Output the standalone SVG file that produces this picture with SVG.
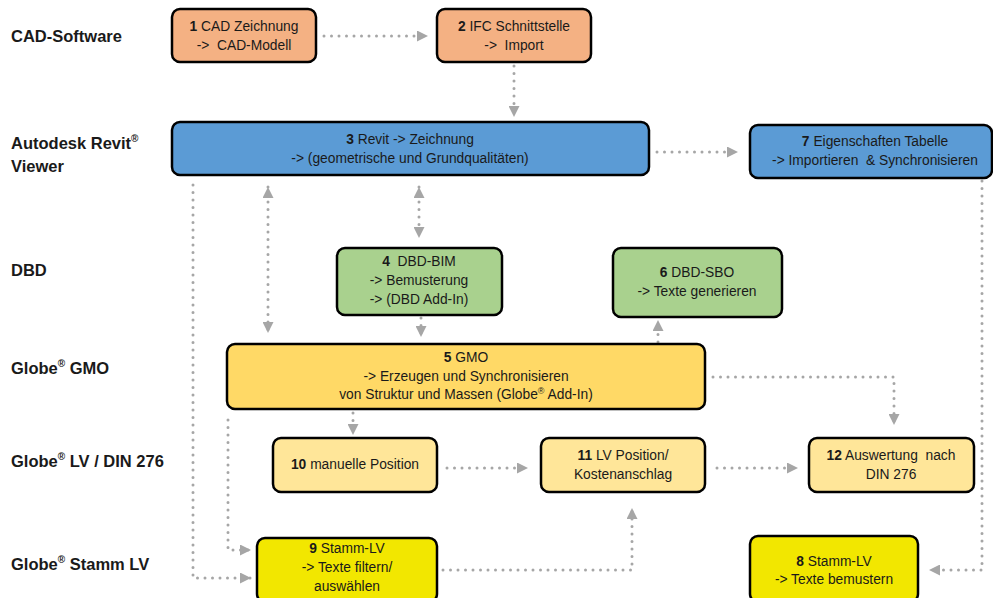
<svg xmlns="http://www.w3.org/2000/svg" width="993" height="598" viewBox="0 0 993 598">
<style>
.lbl{font-family:"Liberation Sans",Arial,sans-serif;font-size:16.5px;font-weight:bold;fill:#1a1a1a}
.t{font-family:"Liberation Sans",Arial,sans-serif;font-size:13.8px;fill:#1a1a1a;text-anchor:middle;white-space:pre}
.b{font-weight:bold}
.box{stroke:#000;stroke-width:2.5}
.or{fill:#F4B183}.bl{fill:#5B9BD5}.gr{fill:#A9D18E}.go{fill:#FFD966}.lt{fill:#FFE699}.ye{fill:#F2E700}
.c{fill:none;stroke:#A6A6A6;stroke-width:3;stroke-dasharray:0 7.5;stroke-linecap:round}
.sup{font-size:10px}
.sups{font-size:9px}
</style>
<defs>
<marker id="ah" viewBox="0 0 11 11" refX="11" refY="5.5" markerWidth="11" markerHeight="11" markerUnits="userSpaceOnUse" orient="auto-start-reverse">
<path d="M0,0 L11,5.5 L0,11 z" fill="#A6A6A6"/>
</marker>
</defs>
<rect width="993" height="598" fill="#fff"/>
<g id="lanes">
<text class="lbl" x="11" y="42">CAD-Software</text>
<text class="lbl" x="11" y="149">Autodesk Revit<tspan class="sup" dy="-7">®</tspan></text>
<text class="lbl" x="11" y="172">Viewer</text>
<text class="lbl" x="11" y="276">DBD</text>
<text class="lbl" x="11" y="374">Globe<tspan class="sup" dy="-7">®</tspan><tspan dy="7"> GMO</tspan></text>
<text class="lbl" x="11" y="467">Globe<tspan class="sup" dy="-7">®</tspan><tspan dy="7"> LV / DIN 276</tspan></text>
<text class="lbl" x="11" y="570">Globe<tspan class="sup" dy="-7">®</tspan><tspan dy="7"> Stamm LV</tspan></text>
</g>
<g id="connectors">
<path class="c" d="M324,36 H428" marker-end="url(#ah)"/>
<path class="c" d="M514,66 V117" marker-end="url(#ah)"/>
<path class="c" d="M657,152 H738" marker-end="url(#ah)"/>
<path class="c" d="M268,187 V333" marker-start="url(#ah)" marker-end="url(#ah)"/>
<path class="c" d="M419,187 V238" marker-start="url(#ah)" marker-end="url(#ah)"/>
<path class="c" d="M421,318 V337" marker-end="url(#ah)"/>
<path class="c" d="M658,342 V320" marker-end="url(#ah)"/>
<path class="c" d="M193,185 V578 H251" marker-end="url(#ah)"/>
<path class="c" d="M228,420 V550 H251" marker-end="url(#ah)"/>
<path class="c" d="M353,413 V435" marker-end="url(#ah)"/>
<path class="c" d="M447,468 H528" marker-end="url(#ah)"/>
<path class="c" d="M717,468 H798" marker-end="url(#ah)"/>
<path class="c" d="M713,377 H894 V425" marker-end="url(#ah)"/>
<path class="c" d="M443,570 H632 V508" marker-end="url(#ah)"/>
<path class="c" d="M982,181 V570 H929" marker-end="url(#ah)"/>
</g>
<g id="n1"><rect class="box or" x="172" y="9" width="144" height="53" rx="8"/>
<text class="t" x="244" y="31"><tspan class="b">1</tspan> CAD Zeichnung</text>
<text class="t" x="244" y="50">->  CAD-Modell</text></g>
<g id="n2"><rect class="box or" x="437" y="9" width="154" height="53" rx="8"/>
<text class="t" x="514" y="31"><tspan class="b">2</tspan> IFC Schnittstelle</text>
<text class="t" x="514" y="50">->  Import</text></g>
<g id="n3"><rect class="box bl" x="172" y="122" width="477" height="53" rx="8"/>
<text class="t" x="410" y="144"><tspan class="b">3</tspan> Revit -> Zeichnung</text>
<text class="t" x="410" y="163">-> (geometrische und Grundqualitäten)</text></g>
<g id="n7"><rect class="box bl" x="750" y="125" width="242" height="53" rx="8"/>
<text class="t" x="875" y="146"><tspan class="b">7</tspan> Eigenschaften Tabelle</text>
<text class="t" x="875" y="165">-> Importieren  &amp; Synchronisieren</text></g>
<g id="n4"><rect class="box gr" x="337" y="248" width="165" height="67" rx="8"/>
<text class="t" x="419" y="266"><tspan class="b">4</tspan>  DBD-BIM</text>
<text class="t" x="419" y="285">-> Bemusterung</text>
<text class="t" x="419" y="304">-> (DBD Add-In)</text></g>
<g id="n6"><rect class="box gr" x="613" y="248" width="169" height="69" rx="8"/>
<text class="t" x="697" y="277"><tspan class="b">6</tspan> DBD-SBO</text>
<text class="t" x="697" y="296">-> Texte generieren</text></g>
<g id="n5"><rect class="box go" x="227" y="344" width="478" height="65" rx="8"/>
<text class="t" x="466" y="362"><tspan class="b">5</tspan> GMO</text>
<text class="t" x="466" y="381">-> Erzeugen und Synchronisieren</text>
<text class="t" x="466" y="399">von Struktur und Massen (Globe<tspan class="sups" dy="-5">®</tspan><tspan dy="5"> Add-In)</tspan></text></g>
<g id="n10"><rect class="box lt" x="273" y="438" width="164" height="54" rx="8"/>
<text class="t" x="355" y="469"><tspan class="b">10</tspan> manuelle Position</text></g>
<g id="n11"><rect class="box lt" x="541" y="438" width="164" height="54" rx="8"/>
<text class="t" x="623" y="460"><tspan class="b">11</tspan> LV Position/</text>
<text class="t" x="623" y="479">Kostenanschlag</text></g>
<g id="n12"><rect class="box lt" x="809" y="438" width="165" height="54" rx="8"/>
<text class="t" x="891" y="460"><tspan class="b">12</tspan> Auswertung  nach</text>
<text class="t" x="891" y="479">DIN 276</text></g>
<g id="n9"><rect class="box ye" x="257" y="538" width="180" height="64" rx="8"/>
<text class="t" x="347" y="553"><tspan class="b">9</tspan> Stamm-LV</text>
<text class="t" x="347" y="572">-> Texte filtern/</text>
<text class="t" x="347" y="591">auswählen</text></g>
<g id="n8"><rect class="box ye" x="750" y="536" width="168" height="66" rx="8"/>
<text class="t" x="834" y="566"><tspan class="b">8</tspan> Stamm-LV</text>
<text class="t" x="834" y="584">-> Texte bemustern</text></g>
</svg>
